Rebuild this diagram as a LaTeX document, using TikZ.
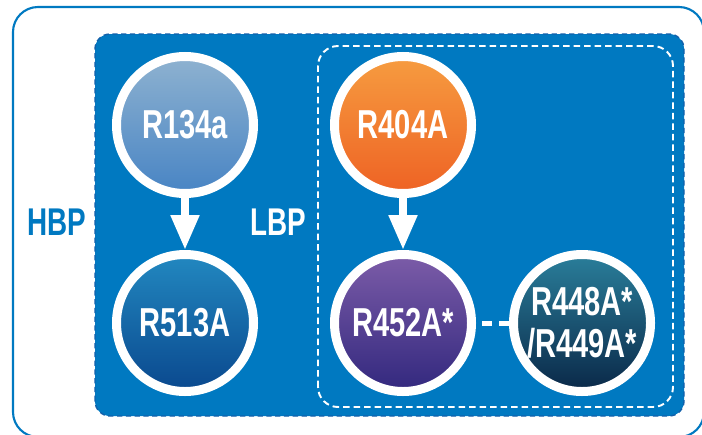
\documentclass[tikz,border=0pt]{standalone}
\usepackage{fontspec}
\setmainfont{Liberation Sans}[FakeStretch=0.72]
\usepackage{xcolor}
\usepackage{tikz}
\usetikzlibrary{positioning,arrows.meta}

\definecolor{hbpblue}{RGB}{0,121,193}
\definecolor{rimblue}{RGB}{18,96,170}

\begin{document}
\begin{tikzpicture}[font=\bfseries,
    gas/.style={circle, draw=white, line width=0.18cm, minimum size=2.74cm,
      inner sep=0pt, text=white, font=\fontsize{23}{24}\selectfont\bfseries},
    flow/.style={draw=white, line width=0.16cm, -{Triangle[width=0.54cm,length=0.7cm]}},
    blend/.style={draw=white, line width=0.1cm, dash pattern=on 0.2cm off 0.14cm, shorten <=0.12cm}]

    \useasboundingbox (0,0) rectangle (14.04,8.68);
    % frames
    \draw[hbpblue, line width=1.2pt, rounded corners=0.5cm] (0.26,-0.06) rectangle (14.08,8.54);
    \filldraw[fill=hbpblue, draw=rimblue, densely dashed, line width=0.8pt, rounded corners=0.3cm]
      (1.9,0.36) rectangle (13.68,8.0);
    \draw[white, line width=1.1pt, dash pattern=on 0.13cm off 0.08cm, rounded corners=0.4cm]
      (6.36,0.54) rectangle (13.46,7.76);

    \node[text=hbpblue, font=\fontsize{22}{22}\selectfont\bfseries] (hbp) at (1.14,4.24) {HBP};
    \node[text=white, font=\fontsize{22}{22}\selectfont\bfseries] (lbp) at (5.57,4.24) {LBP};

    % refrigerants
    \node[gas, top color={rgb,255:red,142;green,178;blue,208}, bottom color={rgb,255:red,72;green,132;blue,196}]
      (r134a) at (3.7,6.18) {R134a};
    \node[gas, below=1.04cm of r134a, top color={rgb,255:red,34;green,136;blue,192}, bottom color={rgb,255:red,10;green,72;blue,142}]
      (r513a) {R513A};
    \node[gas, right=1.44cm of r134a, top color={rgb,255:red,246;green,156;blue,64}, bottom color={rgb,255:red,238;green,98;blue,36}]
      (r404a) {R404A};
    \node[gas, below=1.04cm of r404a, top color={rgb,255:red,124;green,92;blue,168}, bottom color={rgb,255:red,50;green,40;blue,126}]
      (r452a) {R452A*};
    \node[gas, right=0.66cm of r452a, align=center, font=\fontsize{23}{24}\selectfont\bfseries,
      top color={rgb,255:red,42;green,126;blue,154}, bottom color={rgb,255:red,10;green,40;blue,72}]
      (r448a) {R448A*\\/R449A*};

    \draw[flow] (r134a) -- (r513a);
    \draw[flow] (r404a) -- (r452a);
    \draw[blend] (r452a) -- (r448a);
\end{tikzpicture}
\end{document}
